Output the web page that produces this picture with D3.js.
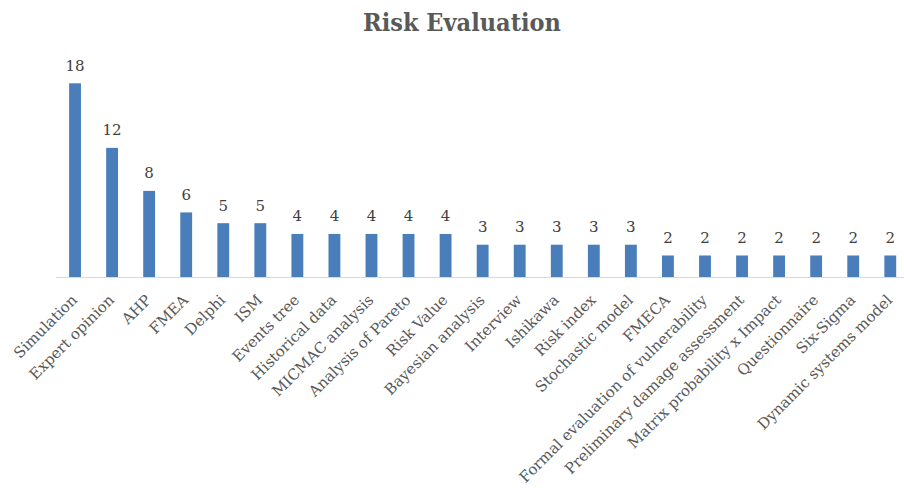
<!DOCTYPE html>
<html><head><meta charset="utf-8">
<script src="https://cdn.jsdelivr.net/npm/d3@7"></script>
<style>body{margin:0;background:#fff}svg{display:block}</style>
</head><body>
<svg id="c" width="904" height="488"></svg>
<script>
const categories = ["Simulation","Expert opinion","AHP","FMEA","Delphi","ISM","Events tree","Historical data","MICMAC analysis","Analysis of Pareto","Risk Value","Bayesian analysis","Interview","Ishikawa","Risk index","Stochastic model","FMECA","Formal evaluation of vulnerability","Preliminary damage assessment","Matrix probability x Impact","Questionnaire","Six-Sigma","Dynamic systems model"];
const values = [18,12,8,6,5,5,4,4,4,4,4,3,3,3,3,3,2,2,2,2,2,2,2];
const title = "Risk Evaluation";

const svg = d3.select("#c");
const base = 277;
const x = d3.scaleBand().domain(categories).range([56.5, 908.8]).paddingInner(0.68).paddingOuter(0.34);
const y = d3.scaleLinear().domain([0, 18]).range([base, 83.3]);
const serif = "'DejaVu Serif', serif";

svg.append("text").attr("x", 462).attr("y", 31).attr("text-anchor", "middle")
  .attr("font-family", serif).attr("font-weight", "bold").attr("font-size", 25)
  .style("font-stretch", "condensed")
  .attr("fill", "#595959").text(title);

svg.append("g").selectAll("rect").data(values).join("rect")
  .attr("x", (d, i) => x(categories[i])).attr("width", x.bandwidth())
  .attr("y", d => y(d)).attr("height", d => base - y(d)).attr("fill", "#4a7ebb");

svg.append("line").attr("x1", 56).attr("x2", 904).attr("y1", base + 0.5).attr("y2", base + 0.5)
  .attr("stroke", "#d9d9d9").attr("stroke-width", 1);

svg.append("g").selectAll("text").data(values).join("text")
  .attr("x", (d, i) => x(categories[i]) + x.bandwidth() / 2).attr("y", d => y(d) - 12.5)
  .attr("text-anchor", "middle").attr("font-family", serif).attr("font-size", 15)
  .attr("fill", "#404040").text(d => d);

svg.append("g").selectAll("text").data(categories).join("text")
  .attr("transform", d => `translate(${x(d) + x.bandwidth() / 2 + 3},${base + 24}) rotate(-45)`)
  .attr("text-anchor", "end").attr("font-family", serif).attr("font-size", 15)
  .attr("fill", "#595959").text(d => d);
</script>
</body></html>
